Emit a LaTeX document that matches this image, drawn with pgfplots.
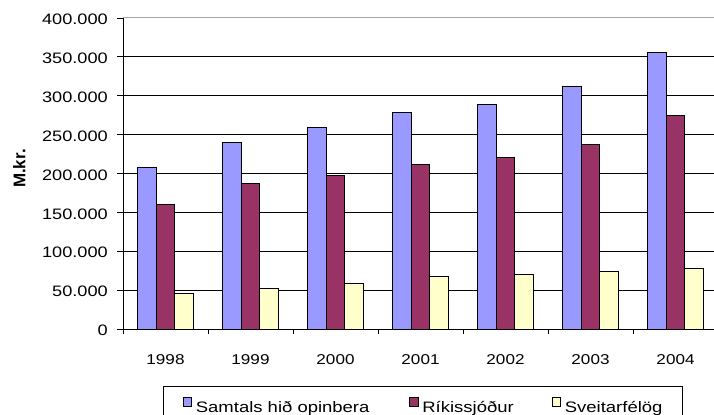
\documentclass[border=0pt]{standalone}
\usepackage{pgfplots}
\pgfplotsset{compat=1.18}
\usepackage{fontspec}
\setmainfont{Liberation Sans}
\newfontfamily\widefont{Liberation Sans}[FakeStretch=1.2]
\newfontfamily\legfont{Liberation Sans}[FakeStretch=1.22]
\definecolor{cblue}{HTML}{9999FF}
\definecolor{cmaroon}{HTML}{993366}
\definecolor{cyellow}{HTML}{FFFFCC}
\begin{document}
\begin{tikzpicture}[x=1bp,y=1bp]
\begin{axis}[
  at={(123bp,85bp)}, anchor=south west,
  scale only axis, width=595bp, height=311bp,
  xmin=-0.5, xmax=6.5, ymin=0, ymax=400000,
  axis x line*=bottom, axis y line*=left,
  axis line style={-, black, line width=0.9bp},
  ybar=0pt, bar width=18.5bp,
  xtick={0,1,2,3,4,5,6},
  xticklabels={1998,1999,2000,2001,2002,2003,2004},
  minor xtick={-0.5,0.5,1.5,2.5,3.5,4.5,5.5,6.5},
  major x tick style={draw=none},
  minor x tick style={black, line width=0.9bp},
  tick align=outside,
  major tick length=6bp, minor tick length=5bp,
  ytick={0,50000,100000,150000,200000,250000,300000,350000},
  extra y ticks={400000},
  extra y tick style={grid style={gray!70, line width=1bp}},
  ymajorgrids, grid style={black, line width=0.9bp},
  y tick style={black, line width=0.9bp},
  scaled y ticks=false,
  /pgf/number format/.cd, fixed, precision=0, 1000 sep={.}, assume math mode=true,
  /pgfplots/.cd,
  yticklabel style={font=\widefont\fontsize{15.2}{17}\selectfont, anchor=east, inner sep=0pt, xshift=-9bp, yshift=-1.5bp},
  xticklabel style={font=\widefont\fontsize{14.3}{17}\selectfont, anchor=north, inner sep=0pt, yshift=-19.5bp},
  ylabel={M.kr.},
  ylabel style={at={(axis description cs:-0.1745,0.516)}, anchor=center, font=\bfseries\fontsize{17}{19}\selectfont},
  legend columns=3,
  legend style={at={(axis description cs:0.0667,0)}, anchor=north west, yshift=-57bp,
    draw=black, line width=0.8bp, inner xsep=19.6bp, inner ysep=10.5bp,
    nodes={inner sep=0pt, font=\legfont\fontsize{15.2}{17}\selectfont},
    /tikz/every odd column/.append style={column sep=4bp},
    /tikz/every even column/.append style={column sep=0pt}},
  legend image code/.code={\draw[#1, draw=black, line width=0.7bp] (0bp,1.6bp) rectangle (8.5bp,10.6bp);},
]
\addplot[fill=cblue, draw=black, line width=1bp] coordinates {(0,208000) (1,239600) (2,259000) (3,278200) (4,289000) (5,312500) (6,355900)};
\addplot[fill=cmaroon, draw=black, line width=1bp] coordinates {(0,160400) (1,187400) (2,198000) (3,211800) (4,220800) (5,237500) (6,274000)};
\addplot[fill=cyellow, draw=black, line width=1bp] coordinates {(0,45900) (1,52300) (2,58800) (3,67300) (4,69500) (5,74600) (6,78000)};
\legend{\makebox[213.3bp][l]{Samtals hið opinbera},\makebox[129.3bp][l]{Ríkissjóður},\makebox[97.7bp][l]{Sveitarfélög}}
\end{axis}
\pgfresetboundingbox
\useasboundingbox (0,0) rectangle (714,414);
\end{tikzpicture}
\end{document}
